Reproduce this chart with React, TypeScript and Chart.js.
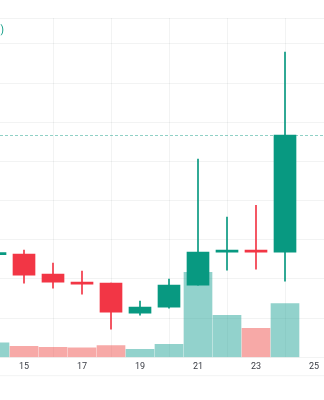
import { useEffect, useRef } from "react";
import { Chart, registerables } from "chart.js";

Chart.register(...registerables);

// Trading days (day of month)
const days = [14, 15, 16, 17, 18, 19, 20, 21, 22, 23, 24];
const opens = [126.2, 126.3, 121.2, 119.16, 118.9, 111.24, 112.77, 118.4, 126.83, 127.34, 126.83];
const highs = [126.8, 127.34, 124.0, 121.97, 118.9, 114.3, 119.93, 150.6, 135.77, 138.8, 177.9];
const lows = [125.9, 118.9, 117.6, 116.1, 107.15, 110.73, 112.5, 118.4, 122.2, 122.5, 119.4];
const closes = [126.6, 120.95, 119.16, 118.65, 111.5, 112.77, 118.4, 126.83, 127.34, 126.83, 156.7];
const volumes = [143, 110, 100, 93, 117, 80, 130, 850, 420, 290, 537];
const xTickLabels = [15, 17, 19, 21, 23, 25];

const UP = "#089981";
const DOWN = "#f23645";
const UP_VOL = "rgba(38,166,154,0.5)";
const DOWN_VOL = "rgba(239,83,80,0.5)";
const GRID = "rgba(42,46,57,0.06)";

const overlay = {
  id: "overlay",
  afterDraw(chart: any) {
    const { ctx, chartArea } = chart;
    const y = chart.scales.y;
    ctx.save();
    // bottom line of the time scale
    ctx.strokeStyle = GRID;
    ctx.lineWidth = 1;
    ctx.beginPath();
    ctx.moveTo(0, chartArea.bottom + 18.5);
    ctx.lineTo(chart.width, chartArea.bottom + 18.5);
    ctx.stroke();
    // last price line
    const last = closes[closes.length - 1];
    const py = Math.round(y.getPixelForValue(last)) + 0.5;
    ctx.strokeStyle = "rgba(8,153,129,0.45)";
    ctx.setLineDash([3, 2]);
    ctx.beginPath();
    ctx.moveTo(0, py);
    ctx.lineTo(chart.width, py);
    ctx.stroke();
    ctx.setLineDash([]);
    // cut-off legend fragment
    ctx.fillStyle = UP;
    ctx.font = "10px Roboto, sans-serif";
    ctx.textAlign = "right";
    ctx.textBaseline = "middle";
    ctx.fillText(")", 4, 30);
    ctx.restore();
  },
};

export default function App() {
  const ref = useRef<HTMLCanvasElement>(null);
  useEffect(() => {
    const isUp = days.map((_, i) => closes[i] >= opens[i]);
    const spacing = 29;
    const xMin = 15 - 24 / spacing;
    const xMax = xMin + 324 / spacing;
    const volMax = Math.max(...volumes) / 0.25;
    const chart = new Chart(ref.current!, {
      type: "bar",
      data: {
        datasets: [
          {
            label: "body",
            data: days.map((d, i) => ({ x: d, y: [opens[i], closes[i]] })) as any,
            backgroundColor: isUp.map((u) => (u ? UP : DOWN)),
            barThickness: 22,
            minBarLength: 2,
            grouped: false,
            yAxisID: "y",
            order: 1,
          },
          {
            label: "wick",
            data: days.map((d, i) => ({ x: d, y: [lows[i], highs[i]] })) as any,
            backgroundColor: isUp.map((u) => (u ? UP : DOWN)),
            barThickness: 1,
            grouped: false,
            yAxisID: "y",
            order: 2,
          },
          {
            label: "volume",
            data: days.map((d, i) => ({ x: d, y: volumes[i] })) as any,
            backgroundColor: isUp.map((u) => (u ? UP_VOL : DOWN_VOL)),
            barThickness: 28,
            grouped: false,
            yAxisID: "vol",
            order: 3,
          },
        ],
      },
      options: {
        responsive: false,
        animation: false,
        layout: { padding: { top: 18, bottom: 24, left: 0, right: 0 } },
        plugins: { legend: { display: false }, tooltip: { enabled: false } },
        scales: {
          x: {
            type: "linear",
            min: xMin,
            max: xMax,
            offset: false,
            afterBuildTicks: (s: any) => {
              s.ticks = xTickLabels.map((v) => ({ value: v }));
            },
            grid: { color: GRID, drawTicks: false },
            border: { display: false },
            ticks: {
              padding: 4,
              autoSkip: false,
              maxRotation: 0,
              color: "#3a3d45",
              font: { family: "Roboto, sans-serif", size: 9 },
              callback: (v: any) => String(v),
            },
          },
          y: {
            type: "linear",
            position: "right",
            min: 100,
            max: 186.6,
            ticks: { display: false, stepSize: 10 },
            grid: { color: GRID, drawTicks: false },
            border: { display: false },
          },
          vol: {
            type: "linear",
            display: false,
            min: 0,
            max: volMax,
          },
        },
      },
      plugins: [overlay],
    });
    return () => chart.destroy();
  }, []);
  return (
    <div style={{ position: "absolute", left: 0, top: 0, width: 324, height: 400, background: "#fff" }}>
      <canvas ref={ref} width={324} height={400} />
    </div>
  );
}
